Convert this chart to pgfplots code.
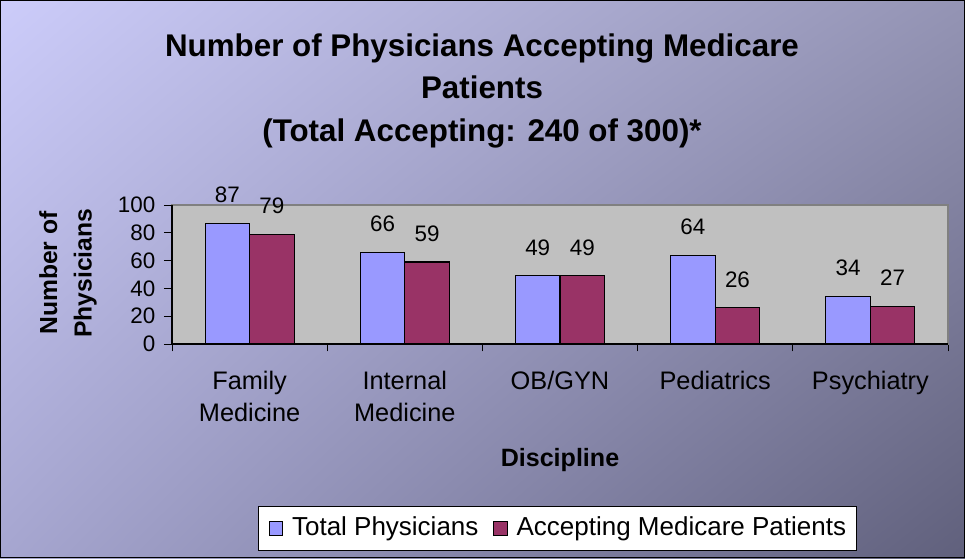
\documentclass[border=0pt]{standalone}
\usepackage{fontspec}
\setmainfont{Liberation Sans}
\usepackage{pgfplots}
\usepackage{pgfplotstable}
\pgfplotsset{compat=1.18}
\usetikzlibrary{shadings}

\definecolor{totalblue}{HTML}{9999FF}
\definecolor{acceptred}{HTML}{993366}
\definecolor{plotgray}{HTML}{C0C0C0}
\definecolor{frameline}{HTML}{808080}
\definecolor{bgUL}{HTML}{CCCCFA}
\definecolor{bgUR}{HTML}{9494B4}
\definecolor{bgLL}{HTML}{A6A6D0}
\definecolor{bgLR}{HTML}{60607C}

% discipline index, total physicians, accepting medicare
\pgfplotstableread{
x total accepting
0 87 79
1 66 59
2 49 49
3 64 26
4 34 27
}\physdata

\newcommand{\numfont}{\fontsize{16.8}{20}\selectfont}
\newcommand{\catfont}{\fontsize{19}{24}\selectfont}

\begin{document}
\begin{tikzpicture}
\shade[upper left=bgUL, upper right=bgUR, lower left=bgLL, lower right=bgLR]
  (0,0) rectangle (723.75pt,418.5pt);
\draw[black, line width=0.8pt] (0.4pt,0.4pt) rectangle (723.35pt,418.1pt);

\begin{axis}[
    at={(129pt,160.5pt)}, anchor=south west,
    scale only axis,
    width=582pt, height=104.25pt,
    ybar=0pt, bar width=33.4pt,
    xmin=-0.5, xmax=4.5,
    ymin=0, ymax=100,
    ytick={0,20,...,100},
    xtick={0,...,4},
    xticklabels={{Family\\Medicine},{Internal\\Medicine},{OB/GYN},{Pediatrics},{Psychiatry}},
    minor xtick={-0.5,0.5,...,4.5},
    major x tick style={draw=none},
    tick pos=left,
    tick align=outside,
    major tick length=6pt, minor tick length=5.5pt,
    tick style={black, line width=0.6pt},
    axis line style={frameline, line width=0.8pt},
    axis background/.style={fill=plotgray},
    yticklabel style={font=\numfont, black, xshift=-3pt},
    xticklabel style={font=\catfont, black, align=center, yshift=-11pt},
    /pgf/number format/assume math mode=true,
    xlabel={Discipline},
    xlabel style={font=\bfseries\fontsize{18.8}{22}\selectfont, at={(axis description cs:0.5,-0.835)}, anchor=center},
    ylabel={Number of\\Physicians},
    ylabel style={font=\bfseries\fontsize{18.5}{26}\selectfont, align=center, at={(axis description cs:-0.134,0.51)}, anchor=center, rotate=0},
    title={Number of Physicians Accepting Medicare\\Patients\\(Total Accepting: 240 of 300)*},
    title style={font=\bfseries\fontsize{23.5}{31.9}\selectfont, align=center, at={(axis description cs:0.3995,1.763)}, anchor=center},
    nodes near coords,
    every node near coord/.append style={font=\numfont, black, anchor=center, yshift=21.4pt},
    legend style={at={(axis description cs:0.4968,-1.327)}, anchor=center, draw=black, fill=white,
        font=\fontsize{19.5}{22}\selectfont, legend columns=2, line width=0.6pt,
        inner xsep=8pt, inner ysep=7.5pt,
        nodes={inner sep=0pt, text height=14pt, text depth=4pt},
        /tikz/every odd column/.append style={column sep=6.75pt},
        /tikz/every even column/.append style={column sep=11.25pt}},
    legend image code/.code={\draw[#1, draw=black, line width=0.6pt] (0pt,-5pt) rectangle (10pt,5pt);},
    after end axis/.code={\draw[black, line width=0.8pt] (rel axis cs:0,1) -- (rel axis cs:0,0) -- (rel axis cs:1,0);},
]
\addplot[fill=totalblue, draw=black, line width=0.8pt] table[x=x, y=total] {\physdata};
\addplot[fill=acceptred, draw=black, line width=0.8pt] table[x=x, y=accepting] {\physdata};
\legend{Total Physicians, Accepting Medicare Patients}
\end{axis}
\end{tikzpicture}
\end{document}
